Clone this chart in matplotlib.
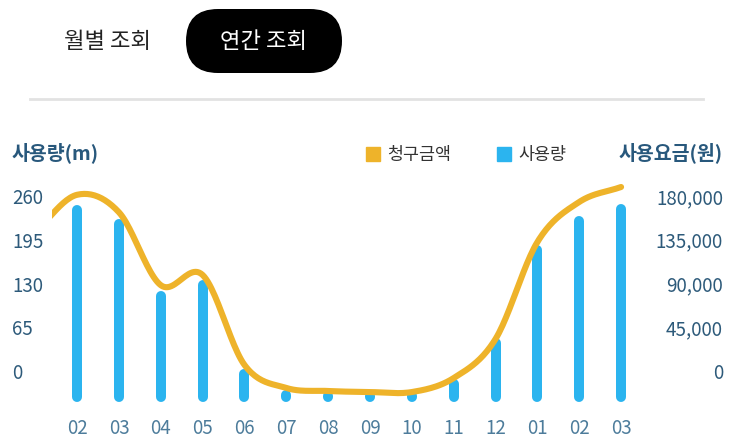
import numpy as np
import matplotlib.pyplot as plt
import matplotlib.transforms as mtransforms
from matplotlib.patches import FancyBboxPatch, Patch

plt.rcParams['font.family'] = ['Noto Sans CJK KR', 'DejaVu Sans']

# 월별 데이터 (연간 조회)
months = ["02", "03", "04", "05", "06", "07", "08", "09", "10", "11", "12", "01", "02", "03"]
usage = [278, 257, 150, 166, 34, 3, 1.5, 1, 1, 19, 80, 218, 262, 279]
# 청구금액: 첫 값은 직전 달(01) - 왼쪽 끝에서 잘려 보임
bill_prev = 170000
bill = [208000, 190000, 115000, 125500, 33000, 9300, 6200, 5100, 5100,
        19500, 59700, 159400, 200600, 216000]

usage_ticks = [0, 65, 130, 195, 260]
bill_ticks = [0, 45000, 90000, 135000, 180000]

BLUE = "#2bb4ef"
GOLD = "#eeb32a"
NAVY = "#28587c"
W, H = 743, 441


def smooth(xs, ys, n=24):
    # catmull-rom 곡선
    xs = np.asarray(xs, float)
    ys = np.asarray(ys, float)
    px = np.concatenate([[2 * xs[0] - xs[1]], xs, [2 * xs[-1] - xs[-2]]])
    py = np.concatenate([[2 * ys[0] - ys[1]], ys, [2 * ys[-1] - ys[-2]]])
    t = np.linspace(0, 1, n, endpoint=False)
    out_x, out_y = [], []
    for i in range(1, len(px) - 2):
        for P, out in ((px, out_x), (py, out_y)):
            p0, p1, p2, p3 = P[i - 1:i + 3]
            out.append(0.5 * (2 * p1 + (-p0 + p2) * t
                              + (2 * p0 - 5 * p1 + 4 * p2 - p3) * t ** 2
                              + (-p0 + 3 * p1 - 3 * p2 + p3) * t ** 3))
    return np.concatenate(out_x + [[xs[-1]]]), np.concatenate(out_y + [[ys[-1]]])


fig = plt.figure(figsize=(W / 100, H / 100), dpi=100)

# 상단 탭 / 구분선 (픽셀 좌표)
bg = fig.add_axes([0, 0, 1, 1])
bg.set_xlim(0, W)
bg.set_ylim(H, 0)
bg.axis("off")
bg.text(108, 42, "월별 조회", fontsize=16, fontweight="medium", color="#222222",
        ha="center", va="center")
bg.add_patch(FancyBboxPatch((186, 9), 156, 64,
                            boxstyle="round,pad=0,rounding_size=32", fc="black", ec="none"))
bg.text(264, 42, "연간 조회", fontsize=16, fontweight="medium", color="white",
        ha="center", va="center")
bg.plot([30, 703], [99, 99], color="#e2e2e2", lw=2)
bg.text(12, 153, "사용량(m)", fontsize=14, fontweight="bold", color=NAVY, ha="left", va="center")
bg.text(723, 153, "사용요금(원)", fontsize=14, fontweight="bold", color=NAVY, ha="right", va="center")

# 차트
ax = fig.add_axes([52 / W, 1 - 410 / H, (642 - 52) / W, (410 - 180) / H])
ax.patch.set_alpha(0)
x = np.arange(len(months))
ax.vlines(x, 0, usage, colors=BLUE, linewidth=7.2, capstyle="round")
ax.set_xlim(-0.6, 13.5)
ax.set_ylim(-19.3, 322.4)
ax.set_xticks(x, months)
ax.set_yticks(usage_ticks, [str(v) for v in usage_ticks])
ax.tick_params(axis="x", length=0, pad=6, labelsize=13.5, labelcolor="#4d7c9b")
ax.tick_params(axis="y", length=0, pad=28.8, labelsize=13.5, labelcolor="#2d5a7a")
for s in ax.spines.values():
    s.set_visible(False)

ax2 = ax.twinx()
lx, ly = smooth(np.arange(-1, len(bill)), [bill_prev] + bill)
ax2.plot(lx, ly, color=GOLD, lw=4.4, solid_capstyle="round")
ax2.set_ylim(-13370, 223200)
ax2.set_yticks(bill_ticks, [f"{v:,}" for v in bill_ticks])
ax2.tick_params(axis="y", length=0, pad=58.3, labelsize=13.5, labelcolor="#2d5a7a")
for s in ax2.spines.values():
    s.set_visible(False)

# 라벨을 위로 살짝 올림 (원본 앱 배치)
up = mtransforms.ScaledTranslation(0, 26 / 100, fig.dpi_scale_trans)
for lbl in ax.get_yticklabels():
    lbl.set_ha("left")
    lbl.set_transform(lbl.get_transform() + up)
for lbl in ax2.get_yticklabels():
    lbl.set_ha("right")
    lbl.set_transform(lbl.get_transform() + up)

# 범례
handles = [Patch(color=GOLD), Patch(color=BLUE)]
fig.legend(handles, ["청구금액", "사용량"], ncol=2, frameon=False, fontsize=12.5,
           loc="center", bbox_to_anchor=(466 / W, 1 - 155 / H),
           handlelength=0.85, handleheight=0.85, handletextpad=0.4,
           columnspacing=2.6, labelcolor="#333333")

fig.savefig("out.png", dpi=100)
